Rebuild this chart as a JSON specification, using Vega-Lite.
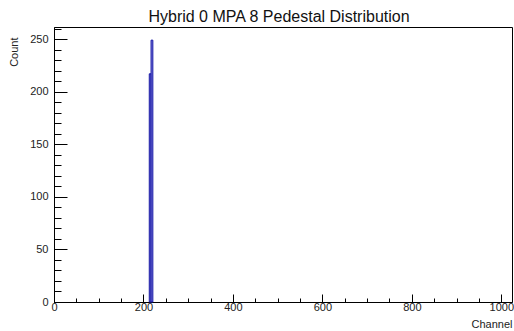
{
  "$schema": "https://vega.github.io/schema/vega-lite/v6.json",
  "width": 458,
  "height": 275,
  "autosize": {"type": "none"},
  "padding": {"left": 54, "top": 27, "right": 2, "bottom": 29},
  "background": "white",
  "title": {
    "text": "Hybrid 0 MPA 8 Pedestal Distribution",
    "font": "Liberation Sans",
    "fontSize": 16,
    "fontWeight": "normal",
    "color": "#111",
    "anchor": "middle",
    "offset": 2,
    "dx": -4
  },
  "config": {
    "view": {"stroke": "black", "strokeWidth": 1},
    "axis": {
      "domainColor": "black",
      "tickColor": "black",
      "labelFont": "Liberation Sans",
      "labelFontSize": 11,
      "labelColor": "#222",
      "titleFont": "Liberation Sans",
      "titleFontSize": 11,
      "titleFontWeight": "normal",
      "titleColor": "#222",
      "grid": false,
      "labelFlush": false
    }
  },
  "data": {
    "values": [
      {"channel_start": 213, "channel_end": 217, "count": 217},
      {"channel_start": 217, "channel_end": 221, "count": 249}
    ]
  },
  "resolve": {"axis": {"x": "independent", "y": "independent"}},
  "layer": [
    {
      "mark": {"type": "bar", "fill": "#8282dc", "stroke": "#1515a5", "strokeWidth": 1, "orient": "vertical"},
      "encoding": {
        "x": {
          "field": "channel_start", "type": "quantitative",
          "scale": {"domain": [0, 1024], "nice": false, "zero": false, "padding": 0},
          "axis": {
            "orient": "bottom",
            "values": [0, 200, 400, 600, 800, 1000],
            "format": "d",
            "labelFlush": false,
            "labelOverlap": false,
            "tickSize": -8,
            "labelPadding": 7,
            "title": "Channel",
            "titleAnchor": "end",
            "titleAlign": "right",
            "titleBaseline": "top",
            "titleX": 458,
            "titleY": 16
          }
        },
        "x2": {"field": "channel_end"},
        "y": {
          "field": "count", "type": "quantitative",
          "scale": {"domain": [0, 261.5], "nice": false, "padding": 0},
          "axis": {
            "orient": "left",
            "values": [0, 50, 100, 150, 200, 250],
            "labelFlush": false,
            "tickSize": -13,
            "labelPadding": 19,
            "title": "Count",
            "titleAngle": -90,
            "titleAlign": "right",
            "titleBaseline": "bottom",
            "titleX": -35,
            "titleY": 10
          }
        },
        "y2": {"datum": 0}
      }
    },
    {
      "mark": {"type": "bar", "opacity": 0, "orient": "vertical"},
      "encoding": {
        "x": {
          "field": "channel_start", "type": "quantitative",
          "axis": {
            "orient": "bottom",
            "values": [50, 100, 150, 250, 300, 350, 450, 500, 550, 650, 700, 750, 850, 900, 950],
            "tickSize": -4,
            "labels": false,
            "domain": false,
            "title": null
          }
        },
        "x2": {"field": "channel_end"},
        "y": {
          "field": "count", "type": "quantitative",
          "axis": {
            "orient": "left",
            "values": [10, 20, 30, 40, 60, 70, 80, 90, 110, 120, 130, 140, 160, 170, 180, 190, 210, 220, 230, 240, 260],
            "tickSize": -7,
            "labels": false,
            "domain": false,
            "title": null
          }
        },
        "y2": {"datum": 0}
      }
    }
  ]
}
